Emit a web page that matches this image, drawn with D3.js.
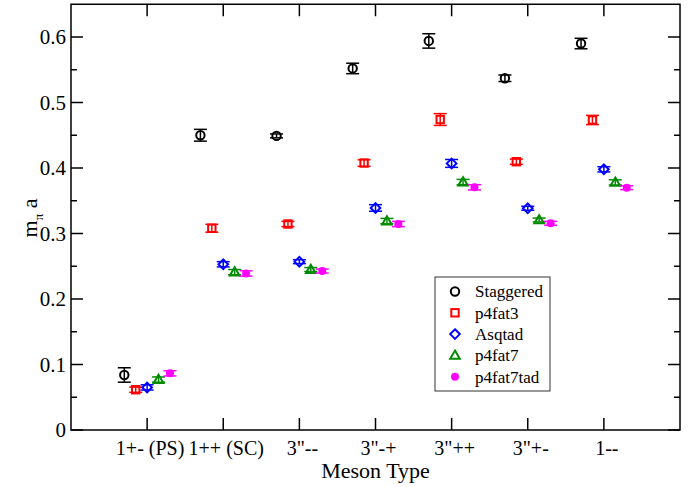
<!DOCTYPE html>
<html><head><meta charset="utf-8">
<script src="https://cdn.jsdelivr.net/npm/d3@7"></script>
<style>body{margin:0;background:#fff}svg{display:block}
text{font-family:"Liberation Serif","Times New Roman",Times,serif}</style>
</head><body>
<script>
const categories = ["1+- (PS)", "1++ (SC)", "3\"--", "3\"-+", "3\"++", "3\"+-", "1--"];
const seriesNames = ["Staggered", "p4fat3", "Asqtad", "p4fat7", "p4fat7tad"];
const staggered     = [0.084, 0.450, 0.449, 0.552, 0.594, 0.537, 0.590];
const staggeredErr  = [0.011, 0.009, 0.003, 0.008, 0.011, 0.005, 0.008];
const p4fat3        = [0.0615, 0.308, 0.3145, 0.4076, 0.474, 0.4096, 0.4733];
const p4fat3Err     = [0.004, 0.006, 0.004, 0.005, 0.009, 0.004, 0.007];
const asqtad        = [0.065, 0.253, 0.257, 0.339, 0.407, 0.3385, 0.398];
const asqtadErr     = [0.004, 0.004, 0.003, 0.005, 0.006, 0.003, 0.004];
const p4fat7        = [0.077, 0.241, 0.245, 0.319, 0.3786, 0.3206, 0.378];
const p4fat7Err     = [0.004, 0.004, 0.003, 0.004, 0.004, 0.003, 0.004];
const p4fat7tad     = [0.0865, 0.239, 0.2427, 0.3145, 0.3705, 0.3156, 0.370];
const p4fat7tadErr  = [0.004, 0.004, 0.003, 0.004, 0.004, 0.003, 0.003];
const categoryPositions = [1, 2, 3, 4, 5, 6, 7];
const seriesOffsets = [-0.3, -0.15, 0, 0.15, 0.3];
const yMajorTicks = [0, 0.1, 0.2, 0.3, 0.4, 0.5, 0.6];
const yMinorTicks = [0.05, 0.15, 0.25, 0.35, 0.45, 0.55];
const yTickLabels = ["0", "0.1", "0.2", "0.3", "0.4", "0.5", "0.6"];

const seriesValues = [staggered, p4fat3, asqtad, p4fat7, p4fat7tad];
const seriesErrors = [staggeredErr, p4fat3Err, asqtadErr, p4fat7Err, p4fat7tadErr];
const colors = ["#000000", "#ff0000", "#0000ff", "#008b00", "#ff00ff"];
const shapes = ["circle", "square", "diamond", "triangle", "dot"];

const W = 696, H = 487;
const L = 71, R = 680, T = 4.25, B = 430;

const svg = d3.select("body").append("svg").attr("width", W).attr("height", H);
const x = d3.scaleLinear().domain([0, 8]).range([L, R]);
const y = d3.scaleLinear().domain([0, 0.65]).range([B, T]);

svg.append("rect").attr("x", L).attr("y", T).attr("width", R - L).attr("height", B - T)
  .attr("fill", "none").attr("stroke", "#000").attr("stroke-width", 1.5);

const axG = svg.append("g").attr("stroke", "#000").attr("stroke-width", 1.5);
yMajorTicks.forEach(v => {
  axG.append("line").attr("x1", L).attr("x2", L + 12).attr("y1", y(v)).attr("y2", y(v));
  axG.append("line").attr("x1", R).attr("x2", R - 12).attr("y1", y(v)).attr("y2", y(v));
});
yMinorTicks.forEach(v => {
  axG.append("line").attr("x1", L).attr("x2", L + 6).attr("y1", y(v)).attr("y2", y(v));
  axG.append("line").attr("x1", R).attr("x2", R - 6).attr("y1", y(v)).attr("y2", y(v));
});
categoryPositions.forEach(p => {
  axG.append("line").attr("x1", x(p)).attr("x2", x(p)).attr("y1", B).attr("y2", B - 12);
  axG.append("line").attr("x1", x(p)).attr("x2", x(p)).attr("y1", T).attr("y2", T + 12);
});

svg.append("g").selectAll("text").data(yMajorTicks).join("text")
  .attr("x", L - 5).attr("y", d => y(d)).attr("dy", "0.35em")
  .attr("text-anchor", "end").attr("font-size", 21)
  .text((d, i) => yTickLabels[i]);

svg.append("g").selectAll("text").data(categories).join("text")
  .attr("x", (d, i) => x(categoryPositions[i]) + 3).attr("y", 455)
  .attr("text-anchor", "middle").attr("font-size", 20)
  .text(d => d);

svg.append("text").attr("x", x(4)).attr("y", 478).attr("text-anchor", "middle")
  .attr("font-size", 22).text("Meson Type");
const yt = svg.append("text").attr("transform", "translate(37,218) rotate(-90)")
  .attr("text-anchor", "middle").attr("font-size", 22);
yt.append("tspan").text("m");
yt.append("tspan").attr("font-size", 13).attr("dy", 6).text("π");
yt.append("tspan").attr("dy", -6).text(" a");

function drawMarker(g, shape, color, cx, cy) {
  if (shape === "circle") {
    g.append("circle").attr("cx", cx).attr("cy", cy).attr("r", 4.2)
      .attr("fill", "none").attr("stroke", color).attr("stroke-width", 2);
  } else if (shape === "square") {
    g.append("rect").attr("x", cx - 3.7).attr("y", cy - 3.7).attr("width", 7.4).attr("height", 7.4)
      .attr("fill", "none").attr("stroke", color).attr("stroke-width", 2);
  } else if (shape === "diamond") {
    const s = 4.8;
    g.append("path").attr("d", `M${cx},${cy - s}L${cx + s},${cy}L${cx},${cy + s}L${cx - s},${cy}Z`)
      .attr("fill", "none").attr("stroke", color).attr("stroke-width", 2);
  } else if (shape === "triangle") {
    const s = 4.8;
    g.append("path").attr("d", `M${cx},${cy - s}L${cx + s},${cy + s * 0.7}L${cx - s},${cy + s * 0.7}Z`)
      .attr("fill", "none").attr("stroke", color).attr("stroke-width", 2);
  } else {
    g.append("circle").attr("cx", cx).attr("cy", cy).attr("r", 4)
      .attr("fill", color).attr("stroke", "none");
  }
}

seriesValues.forEach((vals, s) => {
  const g = svg.append("g");
  const col = colors[s];
  vals.forEach((v, i) => {
    const cx = x(categoryPositions[i] + seriesOffsets[s]);
    const e = seriesErrors[s][i];
    const y1 = y(v + e), y2 = y(v - e);
    g.append("line").attr("x1", cx).attr("x2", cx).attr("y1", y1).attr("y2", y2)
      .attr("stroke", col).attr("stroke-width", 1.5);
    [y1, y2].forEach(yy => g.append("line").attr("x1", cx - 6.5).attr("x2", cx + 6.5)
      .attr("y1", yy).attr("y2", yy).attr("stroke", col).attr("stroke-width", 1.5));
    drawMarker(g, shapes[s], col, cx, y(v));
  });
});

const lg = svg.append("g");
lg.append("rect").attr("x", 435).attr("y", 277).attr("width", 115).attr("height", 114)
  .attr("fill", "#fff").attr("stroke", "#333").attr("stroke-width", 1);
seriesNames.forEach((n, i) => {
  const yy = 291.5 + i * 21.3;
  drawMarker(lg, shapes[i], colors[i], 455, yy);
  lg.append("text").attr("x", 475).attr("y", yy).attr("dy", "0.35em")
    .attr("font-size", 17).text(n);
});
</script>
</body></html>
